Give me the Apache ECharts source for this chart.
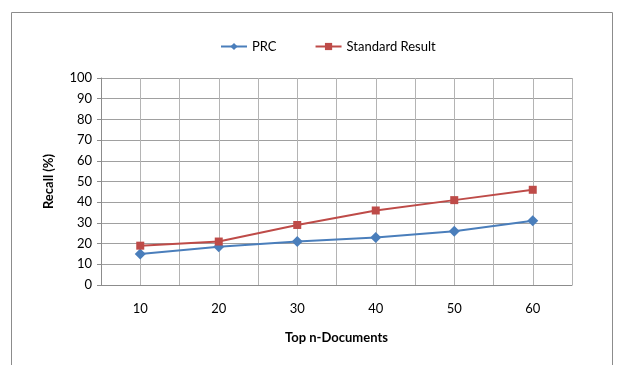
<!DOCTYPE html>
<html>
<head>
<meta charset="utf-8">
<script src="https://cdn.jsdelivr.net/npm/echarts@6/dist/echarts.min.js"></script>
<style>
  html, body { margin: 0; padding: 0; background: #fff; }
  #chart { width: 617px; height: 365px; }
</style>
</head>
<body>
<div id="chart"></div>
<script>
// Recall at top-n documents for the two methods
const topN = [10, 20, 30, 40, 50, 60];
const prcRecall = [15, 18.5, 21, 23, 26, 31];
const standardRecall = [19, 21, 29, 36, 41, 46];
const yTicks = [0, 10, 20, 30, 40, 50, 60, 70, 80, 90, 100];

const FONT = 'Lato, "Open Sans", sans-serif';
const chart = echarts.init(document.getElementById('chart'), null, { renderer: 'canvas' });

const pairs = (vals) => topN.map((n, i) => [n, vals[i]]);

chart.setOption({
  backgroundColor: '#fff',
  animation: false,
  graphic: [{
    type: 'rect',
    shape: { x: 11.5, y: 12.5, width: 601, height: 380 },
    style: { fill: 'none', stroke: '#8c8c8c', lineWidth: 1 },
    silent: true
  }],
  legend: {
    top: 35,
    left: 215,
    itemWidth: 26,
    itemHeight: 9,
    itemGap: 38,
    textStyle: { fontFamily: FONT, fontSize: 13, color: '#000' },
    data: ['PRC', 'Standard Result']
  },
  grid: { left: 101, right: 45, top: 78, bottom: 80, containLabel: false },
  xAxis: {
    type: 'value',
    min: 5,
    max: 65,
    interval: 5,
    name: 'Top n-Documents',
    nameLocation: 'middle',
    nameGap: 46,
    nameTextStyle: { fontFamily: FONT, fontSize: 13, fontWeight: 'bold', color: '#000' },
    axisLine: { lineStyle: { color: '#8c8c8c' } },
    axisTick: { show: false },
    axisLabel: {
      margin: 17,
      fontFamily: FONT, fontSize: 13, color: '#000',
      formatter: (v) => (topN.indexOf(v) >= 0 ? String(v) : '')
    },
    splitLine: { show: true, lineStyle: { color: '#b4b4b4', width: 1 } }
  },
  yAxis: {
    type: 'value',
    min: yTicks[0],
    max: yTicks[yTicks.length - 1],
    interval: 10,
    name: 'Recall (%)',
    nameLocation: 'middle',
    nameGap: 46,
    nameTextStyle: { fontFamily: FONT, fontSize: 13, fontWeight: 'bold', color: '#000' },
    axisLine: { show: true, lineStyle: { color: '#8c8c8c' } },
    axisTick: { show: true, length: 4, lineStyle: { color: '#8c8c8c' } },
    axisLabel: { margin: 9, fontFamily: FONT, fontSize: 13, color: '#000' },
    splitLine: { show: true, lineStyle: { color: '#a0a0a0', width: 1 } }
  },
  series: [
    {
      name: 'PRC',
      type: 'line',
      data: pairs(prcRecall),
      symbol: 'diamond',
      symbolSize: 11,
      lineStyle: { color: '#4a7ebb', width: 2 },
      itemStyle: { color: '#4a7ebb' }
    },
    {
      name: 'Standard Result',
      type: 'line',
      data: pairs(standardRecall),
      symbol: 'rect',
      symbolSize: 8,
      lineStyle: { color: '#be4b48', width: 2 },
      itemStyle: { color: '#be4b48' }
    }
  ]
});
</script>
</body>
</html>
